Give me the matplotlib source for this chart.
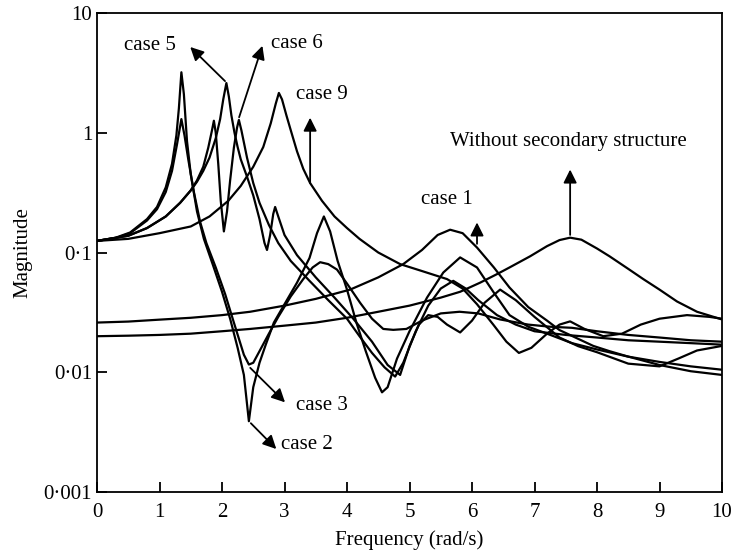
import matplotlib
matplotlib.use("Agg")
import matplotlib.pyplot as plt
from matplotlib.ticker import FixedLocator, FixedFormatter

# Datos (frecuencia en rad/s, magnitud)
freq_without = [0, 0.5, 1.0, 1.5, 2.0, 2.45, 3.0, 3.5, 4.0, 4.5, 5.0, 5.5, 5.81, 6.13, 6.4,
                6.6, 6.93, 7.2, 7.4, 7.57, 7.75, 8.0, 8.2, 8.5, 8.74, 9.0, 9.28, 9.6, 10]
mag_without = [0.02, 0.0202, 0.0205, 0.021, 0.022, 0.023, 0.0245, 0.026, 0.0285, 0.032, 0.036,
               0.042, 0.047, 0.056, 0.066, 0.075, 0.093, 0.113, 0.127, 0.133, 0.128, 0.108,
               0.093, 0.073, 0.06, 0.049, 0.039, 0.032, 0.0276]

freq_case1 = [0, 0.5, 1.0, 1.5, 2.0, 2.45, 3.0, 3.5, 4.05, 4.5, 4.9, 5.2, 5.45, 5.65, 5.85,
              6.08, 6.35, 6.6, 6.9, 7.2, 7.4, 7.7, 7.94, 8.2, 8.48, 9.0, 9.5, 10]
mag_case1 = [0.026, 0.0265, 0.0275, 0.0285, 0.03, 0.032, 0.036, 0.041, 0.049, 0.062, 0.08,
             0.105, 0.14, 0.155, 0.145, 0.11, 0.075, 0.051, 0.035, 0.027, 0.0225, 0.019,
             0.0166, 0.015, 0.0136, 0.0115, 0.0102, 0.0095]

freq_case2 = [0, 0.3, 0.53, 0.8, 0.96, 1.1, 1.2, 1.27, 1.31, 1.35, 1.39, 1.44, 1.5, 1.6, 1.71,
              1.85, 2.0, 2.13, 2.25, 2.35, 2.43, 2.5, 2.6, 2.7, 2.83, 3.0, 3.2, 3.4, 3.52,
              3.63, 3.73, 3.85, 4.0, 4.15, 4.3, 4.45, 4.56, 4.65, 4.8, 5.0, 5.28, 5.54, 5.81,
              6.08, 6.34, 6.6, 6.9, 7.2, 7.6, 8.0, 8.5, 9.0, 9.5, 10]
mag_case2 = [0.125, 0.133, 0.147, 0.19, 0.24, 0.35, 0.55, 0.95, 1.6, 3.2, 2.1, 0.85, 0.45,
             0.22, 0.13, 0.08, 0.047, 0.028, 0.016, 0.0095, 0.0039, 0.0075, 0.012, 0.017,
             0.026, 0.037, 0.056, 0.09, 0.145, 0.2, 0.15, 0.085, 0.049, 0.026, 0.015, 0.009,
             0.0068, 0.0075, 0.013, 0.022, 0.042, 0.068, 0.091, 0.075, 0.047, 0.03, 0.024,
             0.021, 0.0175, 0.0155, 0.0135, 0.0122, 0.0112, 0.0105]

freq_case3 = [0, 0.3, 0.53, 0.8, 0.96, 1.1, 1.2, 1.28, 1.35, 1.4, 1.46, 1.55, 1.65, 1.75, 1.9,
              2.05, 2.2, 2.35, 2.43, 2.5, 2.6, 2.75, 2.9, 3.1, 3.3, 3.45, 3.57, 3.7, 3.84,
              4.0, 4.21, 4.4, 4.58, 4.74, 4.95, 5.2, 5.5, 5.8, 6.1, 6.45, 6.9, 7.25, 7.6,
              8.0, 8.5, 9.0, 9.5, 10]
mag_case3 = [0.125, 0.132, 0.145, 0.185, 0.23, 0.32, 0.48, 0.8, 1.3, 0.95, 0.6, 0.32, 0.18,
             0.12, 0.075, 0.045, 0.025, 0.014, 0.0116, 0.012, 0.015, 0.021, 0.029, 0.043,
             0.06, 0.075, 0.083, 0.08, 0.072, 0.055, 0.038, 0.028, 0.023, 0.0226, 0.023,
             0.027, 0.031, 0.032, 0.031, 0.0276, 0.025, 0.024, 0.0235, 0.022, 0.0205, 0.0195,
             0.0185, 0.018]

freq_case5 = [0, 0.5, 0.8, 1.1, 1.33, 1.5, 1.6, 1.7, 1.8, 1.9, 1.97, 2.02, 2.07, 2.11, 2.15,
              2.2, 2.25, 2.3, 2.4, 2.5, 2.6, 2.68, 2.72, 2.77, 2.82, 2.85, 2.9, 3.0, 3.2, 3.5,
              3.8, 4.1, 4.4, 4.65, 4.85, 5.0, 5.15, 5.3, 5.45, 5.6, 5.81, 6.0, 6.2, 6.45, 6.7,
              7.0, 7.4, 7.7, 8.0, 8.5, 9.0, 9.3, 9.6, 10]
mag_case5 = [0.125, 0.138, 0.16, 0.2, 0.26, 0.33, 0.39, 0.48, 0.62, 0.9, 1.3, 1.9, 2.6, 2.0,
             1.4, 1.0, 0.76, 0.6, 0.43, 0.3, 0.19, 0.12, 0.105, 0.14, 0.21, 0.24, 0.2, 0.14,
             0.095, 0.062, 0.042, 0.028, 0.018, 0.0115, 0.0095, 0.0165, 0.025, 0.03, 0.029,
             0.025, 0.0215, 0.027, 0.038, 0.049, 0.04, 0.029, 0.0195, 0.0165, 0.0147, 0.0118,
             0.0112, 0.013, 0.0152, 0.0166]

freq_case6 = [0, 0.5, 0.8, 1.1, 1.33, 1.5, 1.6, 1.7, 1.78, 1.84, 1.87, 1.9, 1.94, 1.98, 2.03,
              2.08, 2.13, 2.19, 2.24, 2.27, 2.31, 2.4, 2.5, 2.6, 2.75, 2.9, 3.1, 3.4, 3.7,
              4.0, 4.2, 4.4, 4.6, 4.77, 4.9, 5.1, 5.3, 5.5, 5.7, 5.9, 6.1, 6.4, 6.7, 7.0,
              7.5, 8.0, 8.5, 9.0, 9.5, 10]
mag_case6 = [0.125, 0.138, 0.16, 0.2, 0.26, 0.33, 0.4, 0.52, 0.75, 1.05, 1.26, 1.0, 0.55,
             0.27, 0.15, 0.22, 0.4, 0.75, 1.1, 1.28, 1.05, 0.62, 0.38, 0.26, 0.17, 0.12,
             0.085, 0.058, 0.04, 0.028, 0.02, 0.0145, 0.011, 0.0092, 0.012, 0.022, 0.036,
             0.05, 0.058, 0.05, 0.04, 0.03, 0.025, 0.022, 0.0205, 0.0195, 0.0185, 0.018,
             0.0175, 0.017]

freq_case9 = [0, 0.5, 1.0, 1.5, 1.8, 2.1, 2.3, 2.5, 2.66, 2.78, 2.86, 2.91, 2.96, 3.03, 3.1,
              3.2, 3.3, 3.41, 3.6, 3.8, 4.0, 4.2, 4.5, 4.85, 5.2, 5.6, 5.85, 6.08, 6.34, 6.55,
              6.75, 6.95, 7.2, 7.4, 7.57, 7.8, 8.1, 8.4, 8.7, 9.0, 9.44, 9.8, 10]
mag_case9 = [0.125, 0.13, 0.145, 0.165, 0.2, 0.27, 0.36, 0.52, 0.76, 1.2, 1.75, 2.15, 1.9,
             1.4, 1.05, 0.7, 0.5, 0.38, 0.27, 0.2, 0.16, 0.13, 0.1, 0.08, 0.07, 0.06, 0.05,
             0.037, 0.025, 0.018, 0.0145, 0.016, 0.021, 0.025, 0.0266, 0.023, 0.02, 0.021,
             0.025, 0.028, 0.03, 0.029, 0.028]

curvas = [
    (freq_without, mag_without),
    (freq_case1, mag_case1),
    (freq_case2, mag_case2),
    (freq_case3, mag_case3),
    (freq_case5, mag_case5),
    (freq_case6, mag_case6),
    (freq_case9, mag_case9),
]

# Anotaciones: texto, posicion del texto, inicio y punta de la flecha
etiquetas = [
    ('case 5', (0.85, 5.4), (2.08, 2.6), (1.46, 5.4)),
    ('case 6', (3.2, 5.6), (2.26, 1.28), (2.66, 5.6)),
    ('case 9', (3.6, 2.07), (3.41, 0.36), (3.41, 1.41)),
    ('Without secondary structure', (7.54, 0.84), (7.57, 0.133), (7.57, 0.52)),
    ('case 1', (5.6, 0.275), (6.08, 0.112), (6.08, 0.188)),
    ('case 3', (3.6, 0.0053), (2.42, 0.0113), (3.04, 0.0054)),
    ('case 2', (3.36, 0.0025), (2.43, 0.0039), (2.9, 0.0022)),
]

plt.rcParams['font.family'] = ['Liberation Serif', 'DejaVu Serif']
fig = plt.figure(figsize=(7.31, 5.56), dpi=100)
ax = fig.add_axes([0.1327, 0.1151, 0.855, 0.8615])

for f, m in curvas:
    ax.plot(f, m, color='black', linewidth=1.6)

ax.set_yscale('log')
ax.set_xlim(0, 10)
ax.set_ylim(0.001, 10)

ax.xaxis.set_major_locator(FixedLocator(range(11)))
ax.yaxis.set_major_locator(FixedLocator([0.001, 0.01, 0.1, 1, 10]))
ax.yaxis.set_major_formatter(FixedFormatter(['0·001', '0·01', '0·1', '1', '10']))
ax.yaxis.set_minor_locator(FixedLocator([]))
ax.tick_params(direction='in', length=7, width=1.3, labelsize=15, top=False, right=False)
ax.tick_params(axis='x', pad=8)
for s in ax.spines.values():
    s.set_linewidth(1.3)

ax.set_xlabel('Frequency (rad/s)', fontsize=15, labelpad=6)
ax.set_ylabel('Magnitude', fontsize=15, labelpad=8)

for texto, pos, inicio, punta in etiquetas:
    ax.annotate('', xy=punta, xytext=inicio,
                arrowprops=dict(arrowstyle='-|>', color='black', lw=1.3, mutation_scale=20))
    ax.text(pos[0], pos[1], texto, fontsize=15, ha='center', va='center')

plt.savefig('out.png', dpi=100)
plt.close()
